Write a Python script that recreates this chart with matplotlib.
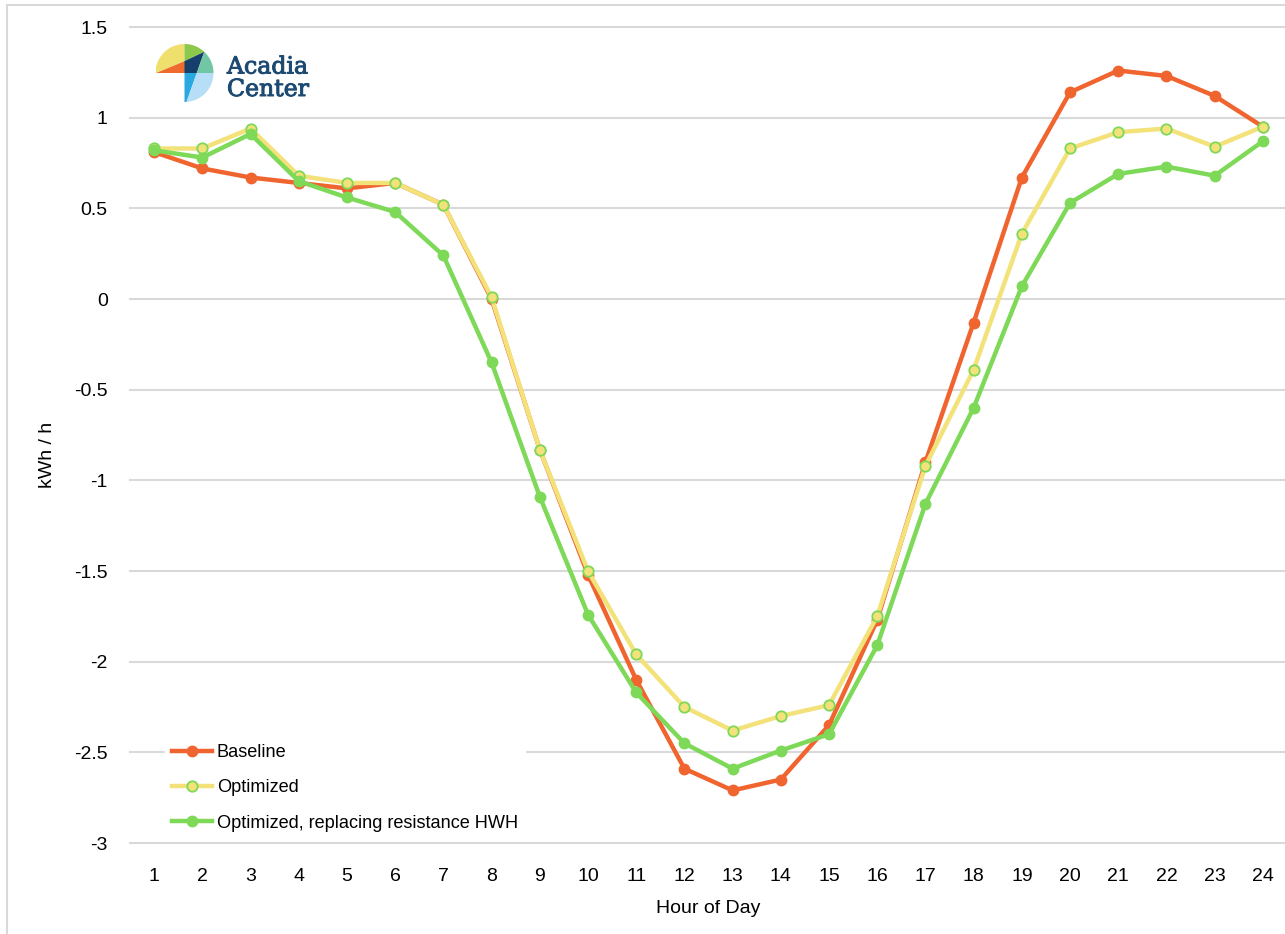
import matplotlib
matplotlib.use("Agg")
import matplotlib.pyplot as plt
from matplotlib.patches import Polygon, Rectangle
import matplotlib.patheffects as pe
import numpy as np

hours = list(range(1, 25))
baseline = [0.81, 0.72, 0.67, 0.64, 0.61, 0.64, 0.52, 0.00, -0.83, -1.52, -2.10, -2.59,
            -2.71, -2.65, -2.35, -1.77, -0.90, -0.13, 0.67, 1.14, 1.26, 1.23, 1.12, 0.95]
optimized = [0.83, 0.83, 0.94, 0.68, 0.64, 0.64, 0.52, 0.01, -0.83, -1.50, -1.96, -2.25,
             -2.38, -2.30, -2.24, -1.75, -0.92, -0.39, 0.36, 0.83, 0.92, 0.94, 0.84, 0.95]
optimized_hwh = [0.82, 0.78, 0.91, 0.65, 0.56, 0.48, 0.24, -0.35, -1.09, -1.74, -2.17, -2.45,
                 -2.59, -2.49, -2.40, -1.91, -1.13, -0.60, 0.07, 0.53, 0.69, 0.73, 0.68, 0.87]
series_labels = ["Baseline", "Optimized", "Optimized, replacing resistance HWH"]
y_ticks = [1.5, 1, 0.5, 0, -0.5, -1, -1.5, -2, -2.5, -3]
y_tick_labels = ["1.5", "1", "0.5", "0", "-0.5", "-1", "-1.5", "-2", "-2.5", "-3"]

plt.rcParams['font.family'] = ['Liberation Sans', 'DejaVu Sans']

W, H = 1285, 934
fig = plt.figure(figsize=(W / 100, H / 100), dpi=100)
ax = fig.add_axes([130 / W, 1 - 843 / H, 1157 / W, (843 - 27) / H])

orange = '#f0652f'
yellow = '#f3e27a'
green = '#7dd957'

ax.plot(hours, baseline, color=orange, lw=3.2, marker='o', ms=7.5, mfc=orange, mec=orange,
        label=series_labels[0], zorder=3)
ax.plot(hours, optimized, color=yellow, lw=3.2, marker='o', ms=7.5, mfc=yellow, mec=green,
        mew=1.3, label=series_labels[1], zorder=4)
ax.plot(hours, optimized_hwh, color=green, lw=3.2, marker='o', ms=7.5, mfc=green, mec=green,
        label=series_labels[2], zorder=5)

ax.set_xlim(0.5, 24.5)
ax.set_ylim(-3, 1.5)
ax.set_xticks(hours)
ax.set_xticklabels([str(h) for h in hours], fontsize=14)
ax.set_yticks(y_ticks)
ax.set_yticklabels(y_tick_labels, fontsize=14)
ax.tick_params(axis='both', length=0)
ax.tick_params(axis='y', pad=16)
ax.tick_params(axis='x', pad=18)
for s in ax.spines.values():
    s.set_visible(False)
ax.grid(axis='y', color='#d9d9d9', lw=1.5)
for gl in ax.get_ygridlines():
    gl.set_clip_on(False)
ax.set_axisbelow(True)

ax.set_xlabel("Hour of Day", fontsize=14, labelpad=10.5)
fig.text(47 / W, 1 - 455 / H, "kWh / h", rotation=90, fontsize=14, ha='center', va='center')

leg = ax.legend(loc='upper left', bbox_to_anchor=((165 - 130) / 1157, (843 - 737) / 816),
                frameon=True, fontsize=13.1, handlelength=2.2, handletextpad=0.25,
                labelspacing=1.0, borderpad=0.4, borderaxespad=0)
leg.get_frame().set_edgecolor('white')
leg.get_frame().set_facecolor('white')
leg.get_frame().set_alpha(1)
leg.get_frame().set_boxstyle('square', pad=0)

# figure border
fig.patches.append(Rectangle((7 / W, -0.02), 1.1, 1 - 5 / H + 0.02, transform=fig.transFigure,
                             fill=False, edgecolor='#d9d9d9', lw=1.5))

# logo
R = 29
lax = fig.add_axes([(184.5 - R) / W, 1 - (73 + R) / H, 2 * R / W, 2 * R / H])
lax.set_xlim(-1, 1)
lax.set_ylim(-1, 1)
lax.axis('off')


def pt(a):
    return (np.cos(np.radians(a)), np.sin(np.radians(a)))


def arc(a0, a1, n=30):
    t = np.radians(np.linspace(a0, a1, n))
    return list(zip(np.cos(t), np.sin(t)))


pa, ba = 47, -86
P = pt(pa)
B = pt(ba)
Q = (0, 0.41)
M = (P[0] + (B[0] - P[0]) * (P[1] / (P[1] - B[1])), 0)
O = (0, 0)
L = (-1, 0)
lax.add_patch(Polygon(arc(90, 180) + [Q], closed=True, fc='#efdf6c', ec='none'))
lax.add_patch(Polygon([L, O, Q], closed=True, fc='#ef6a2d', ec='none'))
lax.add_patch(Polygon(arc(pa, 90) + [Q], closed=True, fc='#8cc84b', ec='none'))
lax.add_patch(Polygon([Q, P, M, O], closed=True, fc='#173f6b', ec='none'))
lax.add_patch(Polygon(arc(0, pa) + [M], closed=True, fc='#71c6a4', ec='none'))
lax.add_patch(Polygon([O, M] + arc(ba, -90), closed=True, fc='#2aa9e0', ec='none'))
lax.add_patch(Polygon([M] + arc(ba, 0), closed=True, fc='#b6def6', ec='none'))

logo_color = '#1d4a72'
for txt, yb in (("Acadia", 73.5), ("Center", 96)):
    fig.text(227 / W, 1 - yb / H, txt, fontsize=17, family='DejaVu Serif', color=logo_color,
             va='baseline', ha='left',
             path_effects=[pe.withStroke(linewidth=0.7, foreground=logo_color)])

fig.savefig("out.png", dpi=100)
